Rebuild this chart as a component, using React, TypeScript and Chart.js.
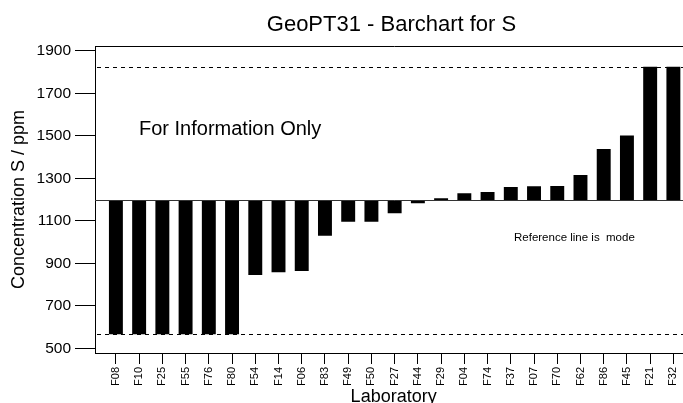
import React, { useEffect, useRef } from "react";
import { Chart, registerables } from "chart.js";

Chart.register(...registerables);

const labs = ["F08","F10","F25","F55","F76","F80","F54","F14","F06","F83","F49","F50","F27","F44","F29","F04","F74","F37","F07","F70","F62","F86","F45","F21","F32"];
const values = [566,566,566,566,566,566,845,858,864,1030,1096,1096,1136,1183,1206,1230,1236,1260,1263,1264,1316,1439,1502,1826,1826];
const modeValue = 1196;
const upperLimit = 1826;
const lowerLimit = 566;
const yTicks = [500,700,900,1100,1300,1500,1700,1900];

const FONT = "'Liberation Sans', Arial, Helvetica, sans-serif";

const overlay = {
  id: "overlay",
  afterDatasetsDraw(chart: any) {
    const ctx = chart.ctx;
    const { left, right, top } = chart.chartArea;
    const y = chart.scales.y;
    ctx.save();
    ctx.strokeStyle = "#000";
    ctx.lineWidth = 1;
    // box top and right
    ctx.beginPath();
    ctx.moveTo(left, Math.round(top) + 0.5);
    ctx.lineTo(right, Math.round(top) + 0.5);
    ctx.lineTo(right, chart.chartArea.bottom);
    ctx.stroke();
    // dashed limits
    ctx.setLineDash([4, 4]);
    [upperLimit, lowerLimit].forEach((v) => {
      const py = Math.round(y.getPixelForValue(v)) + 0.5;
      ctx.beginPath();
      ctx.moveTo(left + 2, py);
      ctx.lineTo(right, py);
      ctx.stroke();
    });
    ctx.setLineDash([]);
    // mode line
    const my = Math.round(y.getPixelForValue(modeValue)) + 0.5;
    ctx.strokeStyle = "#333";
    ctx.beginPath();
    ctx.moveTo(left, my);
    ctx.lineTo(right, my);
    ctx.stroke();
    ctx.restore();
  },
  afterDraw(chart: any) {
    const ctx = chart.ctx;
    const { left, right, top, bottom } = chart.chartArea;
    ctx.save();
    ctx.fillStyle = "#000";
    ctx.textBaseline = "alphabetic";
    // title
    ctx.font = `22px ${FONT}`;
    ctx.textAlign = "center";
    ctx.fillText("GeoPT31 - Barchart for S", 391.5, 31);
    // x title
    ctx.font = `18px ${FONT}`;
    ctx.fillText("Laboratory", (left + right) / 2 - 1, 402);
    // y title
    ctx.save();
    ctx.translate(24, (top + bottom) / 2);
    ctx.rotate(-Math.PI / 2);
    ctx.fillText("Concentration S / ppm", 0, 0);
    ctx.restore();
    // annotations
    ctx.textAlign = "left";
    ctx.font = `20px ${FONT}`;
    ctx.fillText("For Information Only", 139, 135);
    ctx.font = `11.5px ${FONT}`;
    ctx.fillText("Reference line is  mode", 514, 240.5);
    ctx.restore();
  },
};

export default function App() {
  const ref = useRef<HTMLCanvasElement>(null);
  useEffect(() => {
    if (!ref.current) return;
    const chart = new Chart(ref.current, {
      type: "bar",
      data: {
        datasets: [
          {
            data: labs.map((_, i) => ({ x: i, y: [modeValue, Math.min(upperLimit, Math.max(lowerLimit, values[i]))] })) as any,
            backgroundColor: "#000",
            borderWidth: 0,
            barPercentage: 0.6,
            categoryPercentage: 1,
          },
        ],
      },
      options: {
        responsive: false,
        animation: false,
        devicePixelRatio: 1,
        layout: { padding: { top: 46, right: 5.7, bottom: 0, left: 0 } },
        plugins: { legend: { display: false }, tooltip: { enabled: false }, title: { display: false } },
        scales: {
          x: {
            type: "linear",
            offset: false,
            min: -0.9,
            max: 24.9,
            afterBuildTicks: (s: any) => {
              s.ticks = labs.map((_, i) => ({ value: i }));
            },
            afterFit: (s: any) => {
              s.height = 50;
            },
            ticks: {
              autoSkip: false,
              minRotation: 90,
              maxRotation: 90,
              padding: 3,
              color: "#000",
              font: { size: 11, family: FONT },
              callback: (v: any) => labs[v] ?? "",
            },
            grid: { offset: false, drawOnChartArea: false, drawTicks: true, tickLength: 11, color: "#000" },
            border: { display: true, color: "#000" },
          },
          y: {
            type: "linear",
            min: 477.9,
            max: 1923.5,
            afterBuildTicks: (s: any) => {
              s.ticks = yTicks.map((v) => ({ value: v }));
            },
            afterFit: (s: any) => {
              s.width = 95;
            },
            ticks: {
              padding: 4,
              color: "#000",
              font: { size: 15.5, family: FONT },
              callback: (v: any) => String(v),
            },
            grid: { drawOnChartArea: false, drawTicks: true, tickLength: 20, color: "#000" },
            border: { display: true, color: "#000" },
          },
        },
      },
      plugins: [overlay],
    });
    return () => chart.destroy();
  }, []);
  return (
    <div style={{ position: "fixed", left: 0, top: 0, width: 683, height: 403, overflow: "hidden", background: "#fff" }}>
      <canvas ref={ref} width={700} height={403} style={{ display: "block", width: 700, height: 403 }} />
    </div>
  );
}
